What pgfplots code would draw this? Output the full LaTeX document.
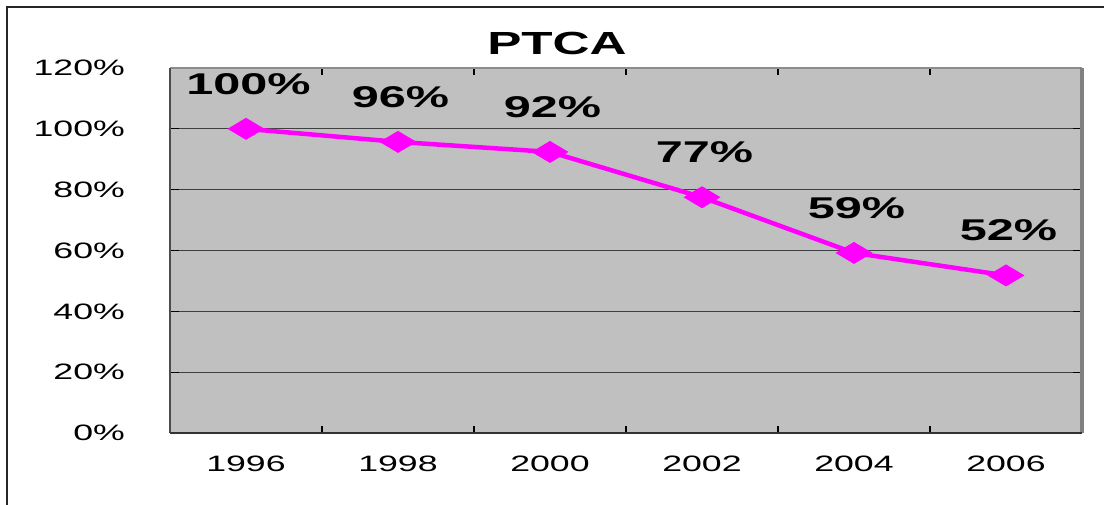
\documentclass[border=0pt]{standalone}
\usepackage{fontspec}
\setmainfont{Liberation Sans}
\usepackage{pgfplots}
\pgfplotsset{compat=1.18}
\definecolor{plotgray}{HTML}{C0C0C0}
\definecolor{mag}{HTML}{FF00FF}
\definecolor{gridc}{HTML}{404040}
\pgfdeclareplotmark{rhomb}{%
 \pgfpathmoveto{\pgfqpoint{0pt}{11pt}}%
 \pgfpathlineto{\pgfqpoint{18.5pt}{0pt}}%
 \pgfpathlineto{\pgfqpoint{0pt}{-11pt}}%
 \pgfpathlineto{\pgfqpoint{-18.5pt}{0pt}}%
 \pgfpathclose
 \pgfusepathqfill}
\begin{document}
\begin{tikzpicture}
\path[use as bounding box] (0,0) rectangle (1104pt,505pt);
\draw[line width=2pt, black!85] (7pt,0) -- (7pt,498pt) -- (1104pt,498pt);
\node[font=\bfseries\fontsize{32}{34}\selectfont, xscale=1.6, inner sep=0pt] at (557pt,461.5pt) {PTCA};
\begin{axis}[
 at={(170pt,72pt)}, anchor=south west,
 scale only axis, width=912pt, height=365pt,
 xmin=-0.5, xmax=5.5, ymin=0, ymax=120,
 clip=false,
 axis line style={draw=none},
 axis background/.style={fill=plotgray},
 xtick={0,1,2,3,4,5},
 xticklabels={1996,1998,2000,2002,2004,2006},
 every major x tick/.append style={draw=none},
 minor xtick={-0.5,0.5,1.5,2.5,3.5,4.5,5.5},
 ytick={0,20,40,60,80,100,120},
 yticklabels={0\%,20\%,40\%,60\%,80\%,100\%,120\%},
 tick align=inside,
 major tick length=9pt, minor tick length=7pt,
 tick style={black, line width=1.2pt},
 ymajorgrids,
 major grid style={color=gridc, line width=1.3pt},
 ticklabel style={font=\fontsize{22.3}{26}\selectfont, xscale=1.6, inner sep=0pt},
 yticklabel style={anchor=east, xshift=-28pt},
 xticklabel style={anchor=north, yshift=-23pt},
 after end axis/.code={
  \draw[line width=2pt, color=black!45] (rel axis cs:0,1) -- (rel axis cs:1,1);
  \draw[line width=3.5pt, color=black!50] (rel axis cs:1,0) -- (rel axis cs:1,1);
  \draw[line width=2.5pt, color=black!70] (rel axis cs:0,0) -- (rel axis cs:0,1);
  \draw[line width=2.5pt, color=black!80] (rel axis cs:0,0) -- (rel axis cs:1,0);
 },
]
\addplot[mag, line width=4.5pt, line join=round, mark=rhomb,
 point meta=explicit symbolic,
 nodes near coords={\pgfplotspointmeta\%},
 every node near coord/.append style={anchor=center, yshift=45pt, xshift=2.5pt, xscale=1.62,
   font=\bfseries\fontsize{30}{32}\selectfont, text=black, inner sep=0pt}]
 coordinates {(0,100)[100] (1,95.7)[96] (2,92.4)[92] (3,77.5)[77] (4,59.2)[59] (5,51.8)[52]};
\end{axis}
\end{tikzpicture}
\end{document}
